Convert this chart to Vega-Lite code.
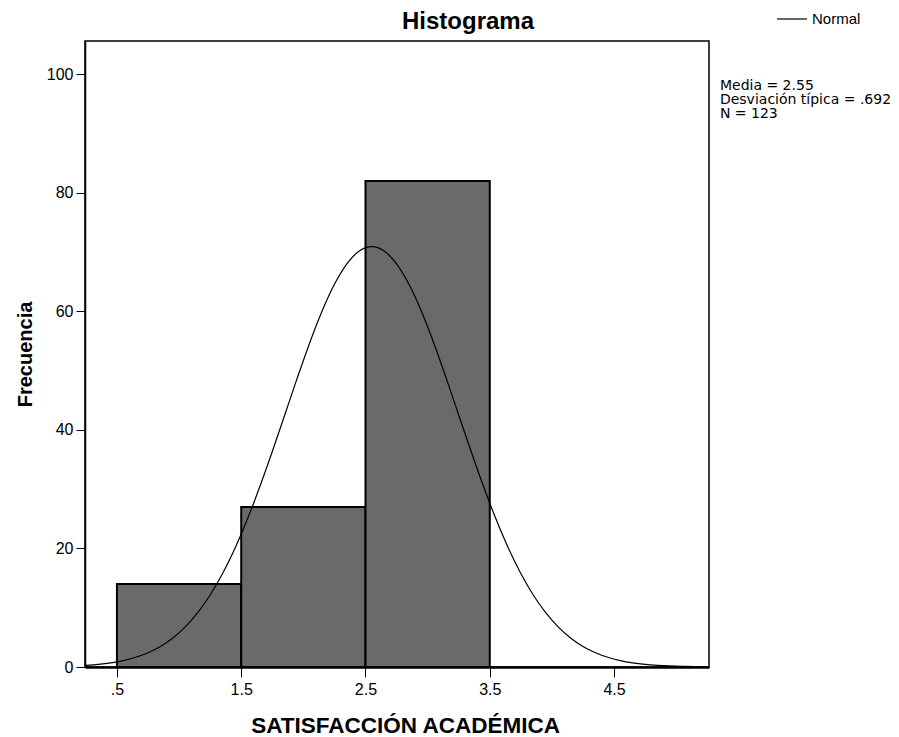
{
  "$schema": "https://vega.github.io/schema/vega-lite/v6.json",
  "width": 624,
  "height": 626,
  "autosize": {"type": "none"},
  "padding": {"left": 85, "top": 41, "right": 190, "bottom": 70},
  "background": "white",
  "title": {"text": "Histograma", "anchor": "middle", "frame": "group", "dx": 71, "offset": -31, "fontSize": 24, "font": "Liberation Sans", "fontWeight": "bold", "color": "#000"},
  "config": {
    "view": {"stroke": "#000", "strokeWidth": 1.5},
    "axis": {"grid": false, "domainColor": "#000", "tickColor": "#000", "labelColor": "#000", "titleColor": "#000", "labelFont": "Liberation Sans", "titleFont": "Liberation Sans", "titleFontWeight": "bold", "labelFontSize": 16}
  },
  "layer": [
    {
      "data": {"values": [
        {"start": 0.5, "end": 1.5, "count": 14},
        {"start": 1.5, "end": 2.5, "count": 27},
        {"start": 2.5, "end": 3.5, "count": 82}
      ]},
      "mark": {"type": "rect", "fill": "#6a6a6a", "stroke": "#000", "strokeWidth": 2},
      "encoding": {
        "x": {"field": "start", "type": "quantitative",
          "scale": {"domain": [0.243, 5.264], "nice": false, "zero": false},
          "axis": {"values": [0.5, 1.5, 2.5, 3.5, 4.5], "labelExpr": "datum.value == 0.5 ? '.5' : format(datum.value, '.1f')", "title": "SATISFACCIÓN ACADÉMICA", "titleFontSize": 22.5, "titleX": 320, "titleY": 65, "titleBaseline": "alphabetic", "domainWidth": 2.5, "tickSize": 10, "labelPadding": 4, "labelBaseline": "top", "labelFlush": false}},
        "x2": {"field": "end"},
        "y": {"field": "count", "type": "quantitative",
          "scale": {"domain": [0, 105.6], "nice": false},
          "axis": {"values": [0, 20, 40, 60, 80, 100], "title": "Frecuencia", "titleFontSize": 20, "titleX": -54, "titleY": 313, "titleAngle": -90, "titleBaseline": "alphabetic", "titleAlign": "center", "tickSize": 9, "labelPadding": 3, "domainWidth": 1.5, "labelFlush": false}},
        "y2": {"datum": 0}
      }
    },
    {
      "data": {"values": [
        {"x": 0.25, "f": 0.283}, {"x": 0.35, "f": 0.453}, {"x": 0.45, "f": 0.709}, {"x": 0.55, "f": 1.089},
        {"x": 0.65, "f": 1.636}, {"x": 0.75, "f": 2.407}, {"x": 0.85, "f": 3.469}, {"x": 0.95, "f": 4.895},
        {"x": 1.05, "f": 6.768}, {"x": 1.15, "f": 9.162}, {"x": 1.25, "f": 12.143}, {"x": 1.35, "f": 15.764},
        {"x": 1.45, "f": 20.045}, {"x": 1.55, "f": 24.959}, {"x": 1.65, "f": 30.435}, {"x": 1.75, "f": 36.349},
        {"x": 1.85, "f": 42.511}, {"x": 1.95, "f": 48.693}, {"x": 2.05, "f": 54.619}, {"x": 2.15, "f": 60.0},
        {"x": 2.25, "f": 64.55}, {"x": 2.35, "f": 68.009}, {"x": 2.45, "f": 70.173}, {"x": 2.55, "f": 70.91},
        {"x": 2.65, "f": 70.173}, {"x": 2.75, "f": 68.009}, {"x": 2.85, "f": 64.55}, {"x": 2.95, "f": 60.0},
        {"x": 3.05, "f": 54.619}, {"x": 3.15, "f": 48.693}, {"x": 3.25, "f": 42.511}, {"x": 3.35, "f": 36.349},
        {"x": 3.45, "f": 30.435}, {"x": 3.55, "f": 24.959}, {"x": 3.65, "f": 20.045}, {"x": 3.75, "f": 15.764},
        {"x": 3.85, "f": 12.143}, {"x": 3.95, "f": 9.162}, {"x": 4.05, "f": 6.768}, {"x": 4.15, "f": 4.895},
        {"x": 4.25, "f": 3.469}, {"x": 4.35, "f": 2.407}, {"x": 4.45, "f": 1.636}, {"x": 4.55, "f": 1.089},
        {"x": 4.65, "f": 0.709}, {"x": 4.75, "f": 0.453}, {"x": 4.85, "f": 0.283}, {"x": 4.95, "f": 0.173},
        {"x": 5.05, "f": 0.104}, {"x": 5.15, "f": 0.061}, {"x": 5.25, "f": 0.035}
      ]},
      "mark": {"type": "line", "strokeWidth": 1.2, "interpolate": "monotone", "clip": true},
      "encoding": {
        "x": {"field": "x", "type": "quantitative"},
        "y": {"field": "f", "type": "quantitative"},
        "color": {"datum": "Normal", "type": "nominal", "scale": {"range": ["#000"]},
          "legend": {"title": null, "orient": "none", "legendX": 691, "legendY": -38, "symbolType": "stroke", "symbolSize": 900, "symbolStrokeWidth": 1.2, "symbolStrokeColor": "#000", "labelFontSize": 15, "labelFont": "Liberation Sans", "labelColor": "#000", "labelOffset": 4, "padding": 0}}
      }
    },
    {
      "data": {"values": [
        {"x": 5.352, "y": 97.3, "t": "Media = 2.55\nDesviación típica = .692\nN = 123"}
      ]},
      "mark": {"type": "text", "align": "left", "baseline": "alphabetic", "lineBreak": "\n", "lineHeight": 14, "fontSize": 14, "font": "DejaVu Sans", "color": "#000", "clip": false},
      "encoding": {
        "x": {"field": "x", "type": "quantitative"},
        "y": {"field": "y", "type": "quantitative"},
        "text": {"field": "t"}
      }
    }
  ]
}
